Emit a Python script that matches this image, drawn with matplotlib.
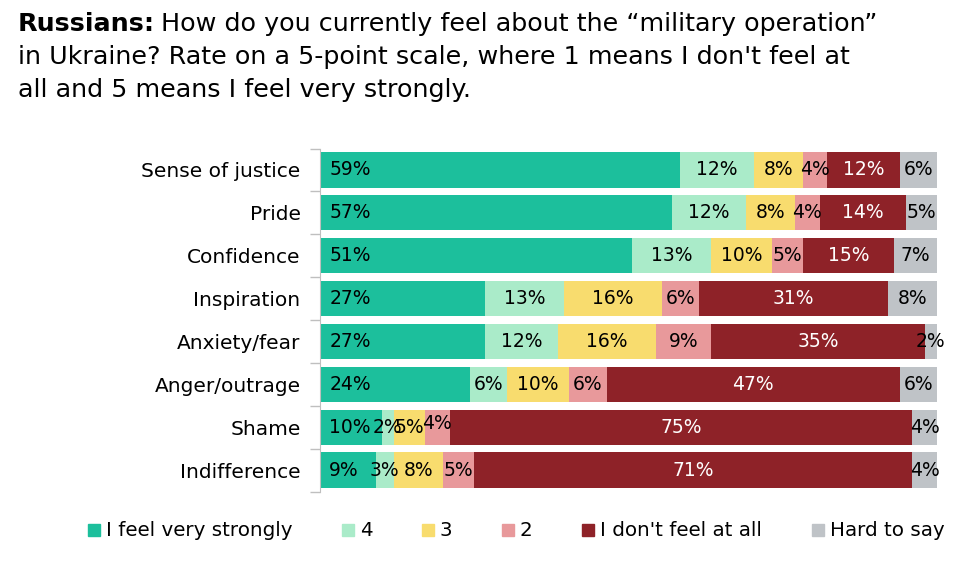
import matplotlib
matplotlib.use("Agg")
import matplotlib.pyplot as plt
from matplotlib.lines import Line2D
import numpy as np

plt.rcParams['font.family'] = ['DejaVu Sans']

# Data
categories = ["Sense of justice", "Pride", "Confidence", "Inspiration",
              "Anxiety/fear", "Anger/outrage", "Shame", "Indifference"]
series = ["I feel very strongly", "4", "3", "2", "I don't feel at all", "Hard to say"]
very_strongly = [59, 57, 51, 27, 27, 24, 10, 9]
four = [12, 12, 13, 13, 12, 6, 2, 3]
three = [8, 8, 10, 16, 16, 10, 5, 8]
two = [4, 4, 5, 6, 9, 6, 4, 5]
not_at_all = [12, 14, 15, 31, 35, 47, 75, 71]
hard_to_say = [6, 5, 7, 8, 2, 6, 4, 4]

colors = ["#1cbf9c", "#aaebc9", "#f8dc6e", "#e8999b", "#8e2228", "#bfc3c7"]
label_colors = ["black", "black", "black", "black", "white", "black"]

values = np.array([very_strongly, four, three, two, not_at_all, hard_to_say], dtype=float)
# bars in the original are stretched to the same total length
widths = values / values.sum(axis=0) * 100

fig = plt.figure(figsize=(9.73, 5.67), dpi=100)
ax = fig.add_axes([320 / 973, 1 - 491.5 / 567, 617 / 973, 343 / 567])

y = np.arange(len(categories))
left = np.zeros(len(categories))
for i, name in enumerate(series):
    ax.barh(y, widths[i], left=left, height=0.82, color=colors[i], label=name)
    for j in range(len(categories)):
        txt = f"{int(values[i, j])}%"
        if i == 0:
            ax.text(left[j] + 1.5, y[j], txt, ha='left', va='center',
                    fontsize=13.5, color=label_colors[i])
        else:
            # the crowded Shame row has its "2" label lifted a little, as in the source
            dy = -0.08 if (categories[j] == "Shame" and i == 3) else 0
            ax.text(left[j] + widths[i, j] / 2, y[j] + dy, txt, ha='center', va='center',
                    fontsize=13.5, color=label_colors[i])
    left += widths[i]

ax.set_xlim(0, 100)
ax.set_ylim(len(categories) - 0.5, -0.5)
ax.set_yticks(y)
ax.set_yticklabels(categories, fontsize=14.5)
ax.tick_params(axis='y', which='major', length=0, pad=14)
ax.set_yticks(np.arange(len(categories) + 1) - 0.5, minor=True)
ax.tick_params(axis='y', which='minor', length=7, color='#bfbfbf', width=1)
ax.set_xticks([])
for s in ['top', 'right', 'bottom']:
    ax.spines[s].set_visible(False)
ax.spines['left'].set_color('#bfbfbf')

# Title: bold lead-in followed by regular text
title_lines = ["How do you currently feel about the \u201cmilitary operation\u201d",
               "in Ukraine? Rate on a 5-point scale, where 1 means I don't feel at",
               "all and 5 means I feel very strongly."]
tsize = 18.3
bold = fig.text(18 / 973, 1 - 31 / 567, "Russians:", fontsize=tsize, fontweight='bold',
                va='baseline', ha='left')
fig.canvas.draw()
bb = bold.get_window_extent(renderer=fig.canvas.get_renderer())
fig.text(bb.x1 / fig.bbox.width + 6 / 973, 1 - 31 / 567, title_lines[0], fontsize=tsize,
         va='baseline', ha='left')
fig.text(18 / 973, 1 - 64 / 567, title_lines[1], fontsize=tsize, va='baseline', ha='left')
fig.text(18 / 973, 1 - 97 / 567, title_lines[2], fontsize=tsize, va='baseline', ha='left')

handles = [Line2D([], [], marker='s', linestyle='none', markersize=9,
                  markerfacecolor=c, markeredgecolor=c) for c in colors]
fig.legend(handles, series, loc='center', bbox_to_anchor=(516 / 973, 1 - 531 / 567),
           ncol=6, frameon=False, fontsize=14.3, handlelength=0.6, handletextpad=0.3,
           columnspacing=2.5)

fig.savefig("out.png", dpi=100)
